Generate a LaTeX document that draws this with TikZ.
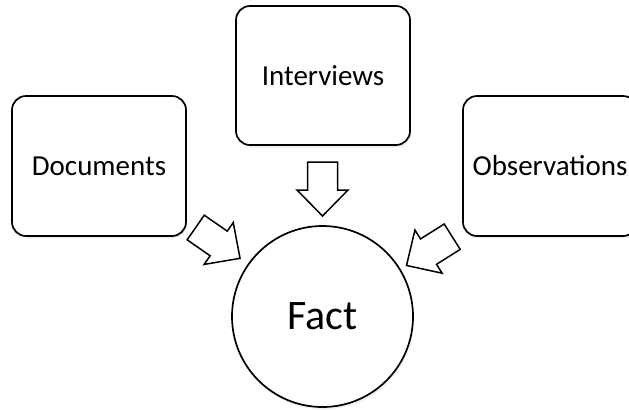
\documentclass[tikz,border=0pt]{standalone}
\usepackage{fontspec}
\setmainfont{Carlito}
\usetikzlibrary{shadows}
\tikzset{
  srcbox/.style={draw=black, line width=1.7bp, rounded corners=14bp, fill=white,
    minimum width=174bp, minimum height=140bp, inner sep=0pt,
    font=\fontsize{29bp}{33bp}\selectfont,
    drop shadow={opacity=0.12, shadow xshift=1bp, shadow yshift=-2.5bp}},
  factcircle/.style={draw=black, line width=1.7bp, circle, fill=white,
    minimum size=181bp, inner sep=0pt, font=\fontsize{42bp}{46bp}\selectfont,
    drop shadow={opacity=0.12, shadow xshift=1bp, shadow yshift=-2.5bp}},
  arrowline/.style={draw=black, line width=1.5bp, fill=white, line join=miter},
  blockarrow/.pic={
    \draw[arrowline] (0,-15) -- (28,-15) -- (28,-25.5) -- (54,0) -- (28,25.5)
      -- (28,15) -- (0,15) -- cycle;
  }
}
\begin{document}
\begin{tikzpicture}[x=1bp, y=-1bp]
  \useasboundingbox (0,0) rectangle (629,409);
  \clip (0,0) rectangle (629,409);
  \fill[white] (0,0) rectangle (629,409);
  \node[srcbox] (doc) at (99,166) {Documents};
  \node[srcbox, minimum height=139bp] (int) at (323,75.5) {Interviews};
  \node[srcbox] (obs) at (550,166) {Observations};
  \node[factcircle] (fact) at (322.5,316.5) {Fact};
  \pic[rotate=-90] (arrint) at (322.5,162) {blockarrow};
  \pic[rotate=-34.8] (arrdoc) at (195.7,227.5) {blockarrow};
  \pic[rotate=212.2] (arrobs) at (452.2,236.7) {blockarrow};
\end{tikzpicture}
\end{document}
